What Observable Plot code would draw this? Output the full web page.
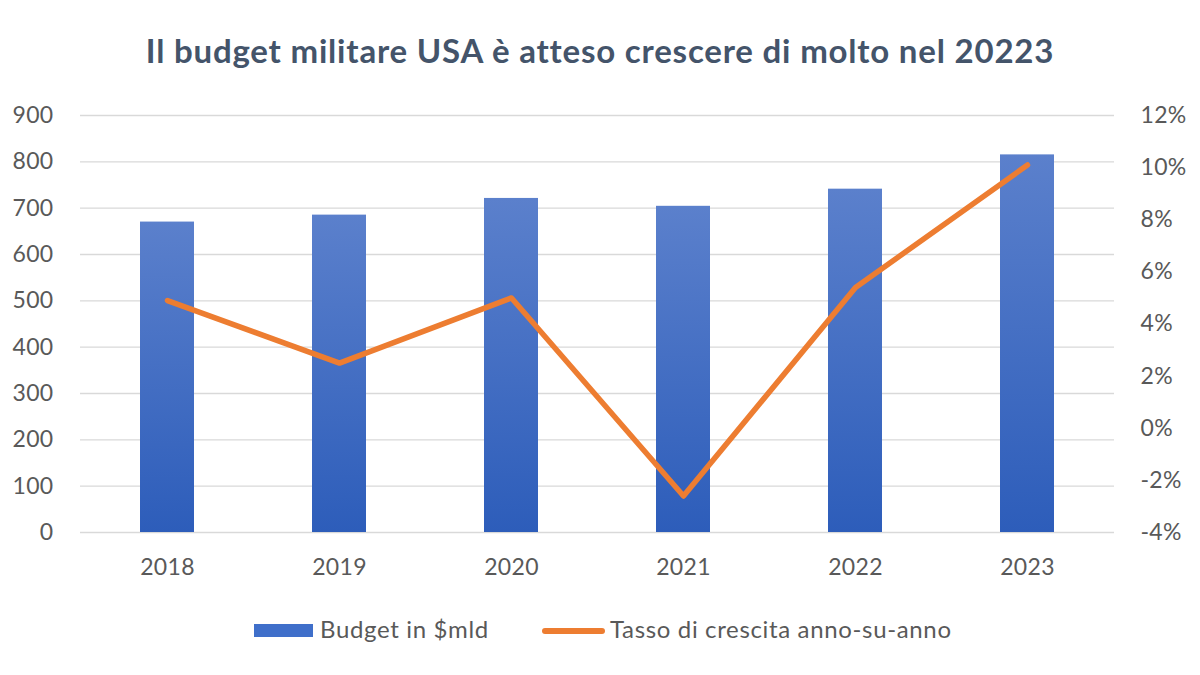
<!DOCTYPE html>
<html><head><meta charset="utf-8">
<script src="https://cdn.jsdelivr.net/npm/d3@7"></script>
<script src="https://cdn.jsdelivr.net/npm/@observablehq/plot@0.6"></script>
<style>
body{margin:0;background:#fff;font-family:Lato,sans-serif;}
#wrap{position:relative;width:1200px;height:675px;overflow:hidden;background:#fff;}
#title{position:absolute;left:0;width:1200px;top:33.5px;text-align:center;font-weight:700;font-size:33px;letter-spacing:0.8px;line-height:1;color:#44546a;white-space:nowrap;}
#chart{position:absolute;left:0;top:95px;}
.legtxt{position:absolute;font-size:24px;letter-spacing:0.65px;line-height:1;color:#595959;white-space:nowrap;}
#legRect{position:absolute;left:254px;top:624px;width:59px;height:13px;background:#3f6fca;}
#legLine{position:absolute;left:542px;top:628px;width:63px;height:5.5px;border-radius:3px;background:#ed7d31;}
</style></head><body>
<div id="wrap">
<div id="title">Il budget militare USA è atteso crescere di molto nel 20223</div>
<div id="chart"></div>
<div id="legRect"></div>
<div class="legtxt" style="left:320px;top:616.5px;">Budget in $mld</div>
<div id="legLine"></div>
<div class="legtxt" style="left:610px;top:616.5px;">Tasso di crescita anno-su-anno</div>
</div>
<script>
const years = ["2018", "2019", "2020", "2021", "2022", "2023"];
const budget = [670, 685, 721, 704, 741, 815];
const growth = [4.9, 2.5, 5.0, -2.6, 5.4, 10.1];
const leftTicks = [0, 100, 200, 300, 400, 500, 600, 700, 800, 900];
const rightTicks = [-4, -2, 0, 2, 4, 6, 8, 10, 12];

const rows = years.map((y, i) => ({year: y, budget: budget[i], growth: growth[i]}));
// map percent (right axis, -4..12) onto the left scale (0..900)
const pMin = -4, pMax = 12, bMax = 900;
const toY = p => (p - pMin) / (pMax - pMin) * bMax;
const fromY = v => v / bMax * (pMax - pMin) + pMin;

const defs = () => {
  const ns = "http://www.w3.org/2000/svg";
  const d = document.createElementNS(ns, "defs");
  const lg = document.createElementNS(ns, "linearGradient");
  lg.setAttribute("id", "barGrad");
  lg.setAttribute("x1", "0"); lg.setAttribute("y1", "0");
  lg.setAttribute("x2", "0"); lg.setAttribute("y2", "1");
  [["0", "#5b80cc"], ["1", "#2d5dba"]].forEach(([o, c]) => {
    const s = document.createElementNS(ns, "stop");
    s.setAttribute("offset", o); s.setAttribute("stop-color", c);
    lg.appendChild(s);
  });
  d.appendChild(lg);
  return d;
};

const chart = Plot.plot({
  width: 1200,
  height: 500,
  marginLeft: 80,
  marginRight: 86,
  marginTop: 20,
  marginBottom: 63,
  style: {fontFamily: "Lato, sans-serif", fontSize: "23px", letterSpacing: "0.3px", color: "#595959", background: "transparent", overflow: "visible"},
  x: {domain: years, paddingInner: 0.687, paddingOuter: 0.3435, label: null},
  y: {domain: [0, bMax], label: null},
  marks: [
    defs,
    Plot.ruleY(leftTicks, {stroke: "#d9d9d9", strokeWidth: 1.3}),
    Plot.barY(rows, {x: "year", y: "budget", fill: "url(#barGrad)"}),
    Plot.lineY(rows, {x: "year", y: d => toY(d.growth), stroke: "#ed7d31", strokeWidth: 5.5, strokeLinejoin: "round", strokeLinecap: "round"}),
    Plot.axisY(leftTicks, {anchor: "left", tickSize: 0, tickPadding: 27, label: null}),
    Plot.axisY(rightTicks.map(toY), {anchor: "right", tickSize: 0, tickPadding: 26, label: null, tickFormat: v => Math.round(fromY(v)) + "%"}),
    Plot.axisX({tickSize: 0, tickPadding: 26, label: null})
  ]
});
document.getElementById("chart").appendChild(chart);
</script>
</body></html>
